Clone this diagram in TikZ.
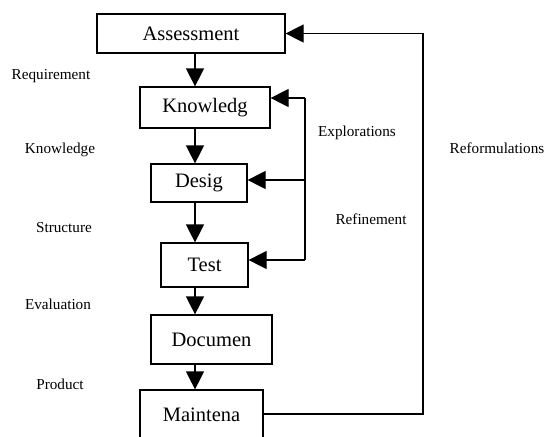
\documentclass[tikz,border=0pt]{standalone}
\usepackage{fontspec}
\setmainfont{Liberation Serif}
\usetikzlibrary{arrows.meta}

\tikzset{
  stage/.style={draw, line width=1.2pt, inner sep=0pt, font=\fontsize{20.5}{23}\selectfont},
  side/.style={inner sep=0pt, font=\fontsize{15.2}{17}\selectfont},
  flow/.style={line width=1.2pt, -{Triangle[length=18pt,width=18pt]}}
}

\begin{document}
\begin{tikzpicture}[x=1pt,y=-1pt]
\useasboundingbox (0,0) rectangle (545,436);
\clip (0,0) rectangle (545,436);
\node[stage, minimum width=188pt, minimum height=39pt] (assess) at (191,33.5) {Assessment};
\node[stage, minimum width=130pt, minimum height=41pt] (know) at (205,107.5) {Knowledg};
\node[stage, minimum width=96pt, minimum height=38pt] (design) at (199,183) {Desig};
\node[stage, minimum width=87pt, minimum height=44pt] (test) at (204.5,265) {Test};
\node[stage, minimum width=121pt, minimum height=49pt] (docu) at (211.5,339.5) {Documen};
\node[stage, minimum width=123pt, minimum height=55pt] (maint) at (201.5,417.5) {\raisebox{5pt}{Maintena}};
\node[side] (lreq) at (51,76) {Requirement};
\node[side] (lknow) at (60,150) {Knowledge};
\node[side] (lstruct) at (64,228) {Structure};
\node[side] (leval) at (58,304) {Evaluation};
\node[side] (lprod) at (60,384) {Product};
\node[side] (lexpl) at (357,133) {Explorations};
\node[side] (lrefi) at (371,219) {Refinement};
\node[side] (lreform) at (497,148) {Reformulations};
\coordinate (ax) at (195,0);
\coordinate (rf) at (423,0);
\coordinate (e1) at (305,98);
\coordinate (e2) at (305,180);
\coordinate (e3) at (305,260);
\draw[flow] (assess.south -| ax) -- (know.north -| ax);
\draw[flow] (know.south -| ax) -- (design.north -| ax);
\draw[flow] (design.south -| ax) -- (test.north -| ax);
\draw[flow] (test.south -| ax) -- (docu.north -| ax);
\draw[flow] (docu.south -| ax) -- (maint.north -| ax);
\draw[flow] (maint.east |- 0,414) -- (rf |- 0,414) |- (assess.east);
\draw[line width=1.2pt] (e1) -- (e3);
\draw[flow] (e1) -- (e1 -| know.east);
\draw[flow] (e2) -- (e2 -| design.east);
\draw[flow] (e3) -- (e3 -| test.east);
\end{tikzpicture}
\end{document}
